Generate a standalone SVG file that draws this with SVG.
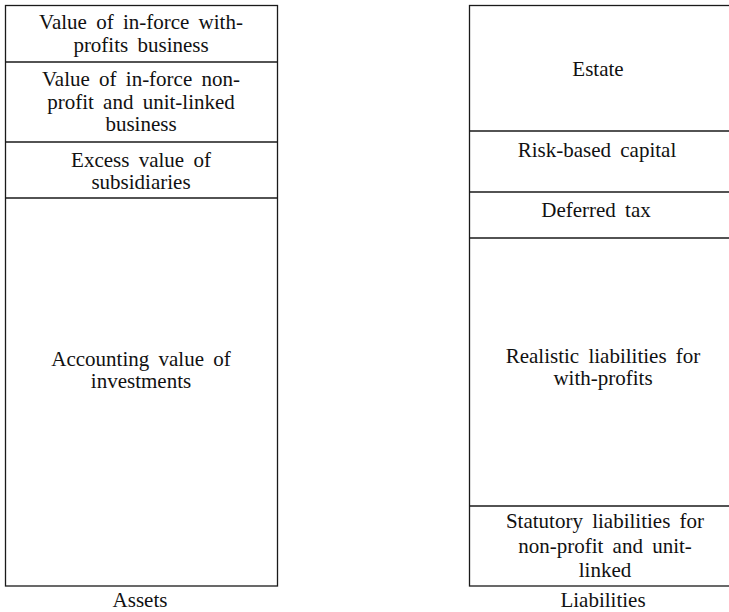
<svg xmlns="http://www.w3.org/2000/svg" width="729" height="612" viewBox="0 0 729 612">
<style>
.box{fill:none;stroke:#1a1a1a;stroke-width:1.3}
.div{stroke:#1a1a1a;stroke-width:1.3}
text{font-family:"Liberation Serif","Times New Roman",serif;font-size:21px;fill:#111;text-anchor:middle;word-spacing:4px}
</style>
<rect width="729" height="612" fill="#fff"/>
<g id="assets">
<rect class="box" x="5.5" y="5.5" width="272" height="580.5"/>
<g id="a1"><text x="141" y="29">Value of in-force with-</text><text x="141" y="52">profits business</text></g>
<line class="div" x1="5.5" y1="62" x2="277.5" y2="62"/>
<g id="a2"><text x="141" y="86">Value of in-force non-</text><text x="141" y="108.5">profit and unit-linked</text><text x="141" y="131">business</text></g>
<line class="div" x1="5.5" y1="142" x2="277.5" y2="142"/>
<g id="a3"><text x="141" y="167">Excess value of</text><text x="141" y="189">subsidiaries</text></g>
<line class="div" x1="5.5" y1="198" x2="277.5" y2="198"/>
<g id="a4"><text x="141" y="366">Accounting value of</text><text x="141" y="388">investments</text></g>
<text id="assets-label" x="140" y="607">Assets</text>
</g>
<g id="liabilities">
<rect class="box" x="469.5" y="5.5" width="300" height="580.5"/>
<g id="l1"><text x="598" y="76">Estate</text></g>
<line class="div" x1="469.5" y1="131" x2="729" y2="131"/>
<g id="l2"><text x="597" y="157">Risk-based capital</text></g>
<line class="div" x1="469.5" y1="192" x2="729" y2="192"/>
<g id="l3"><text x="596" y="217">Deferred tax</text></g>
<line class="div" x1="469.5" y1="238" x2="729" y2="238"/>
<g id="l4"><text x="603" y="363">Realistic liabilities for</text><text x="603" y="385">with-profits</text></g>
<line class="div" x1="469.5" y1="506" x2="729" y2="506"/>
<g id="l5"><text x="605" y="528">Statutory liabilities for</text><text x="605" y="553">non-profit and unit-</text><text x="605" y="577">linked</text></g>
<text id="liabilities-label" x="603" y="607">Liabilities</text>
</g>
<g id="connectors"/>
</svg>
